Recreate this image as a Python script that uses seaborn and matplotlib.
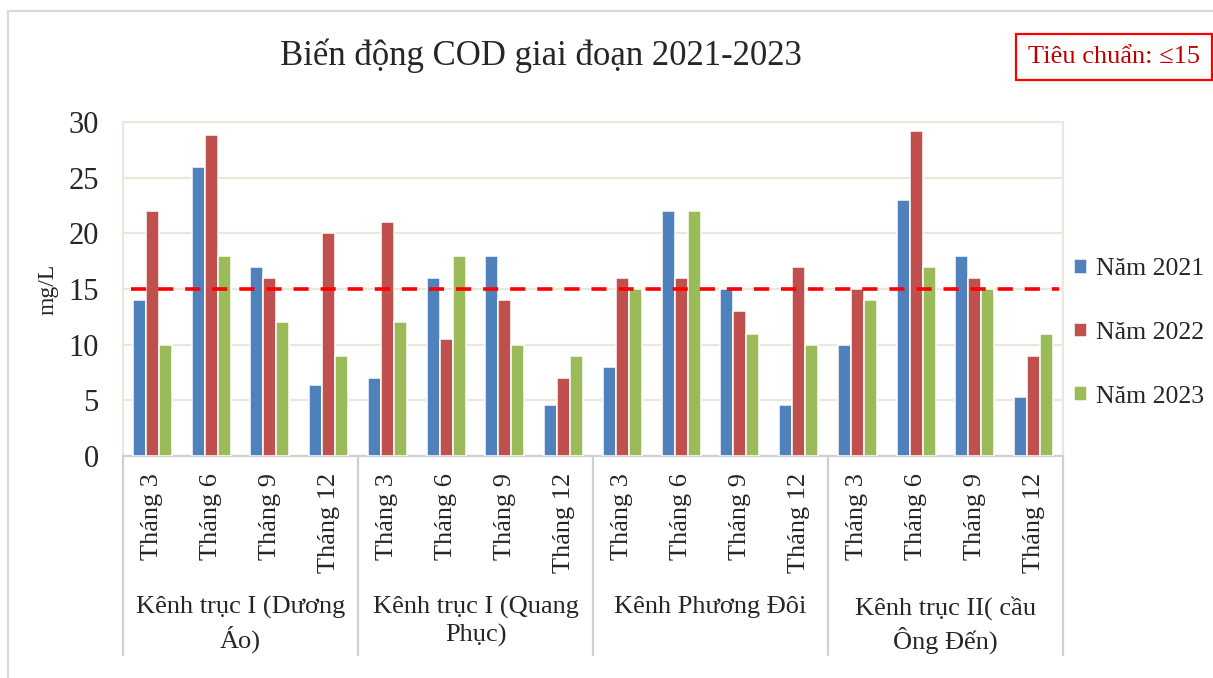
import numpy as np
import pandas as pd
import matplotlib
matplotlib.use("Agg")
import matplotlib.pyplot as plt
import matplotlib.transforms as mtransforms
from matplotlib.lines import Line2D
import seaborn as sns

# --- data -------------------------------------------------------------
sites = [
    "Kênh trục I (Dương\nÁo)",
    "Kênh trục I (Quang\nPhục)",
    "Kênh Phương Đôi",
    "Kênh trục II( cầu\nÔng Đến)",
]
months = ["Tháng 3", "Tháng 6", "Tháng 9", "Tháng 12"]
years = ["Năm 2021", "Năm 2022", "Năm 2023"]

cod_2021 = [14, 26, 17, 6.4,   7, 16, 18, 4.6,   8, 22, 15, 4.6,   10, 23, 18, 5.3]
cod_2022 = [22, 28.8, 16, 20,  21, 10.5, 14, 7,  16, 16, 13, 17,   15, 29.2, 16, 9]
cod_2023 = [10, 18, 12, 9,     12, 18, 10, 9,    15, 22, 11, 10,   14, 17, 15, 11]

standard = 15
title = "Biến động COD giai đoạn 2021-2023"
standard_label = "Tiêu chuẩn: ≤15"
y_label = "mg/L"
y_ticks = [0, 5, 10, 15, 20, 25, 30]

colors = ["#4F81BD", "#C0504D", "#9BBB59"]

# --- long-form table ----------------------------------------------------
keys = [f"{s}|{m}" for s in sites for m in months]
rows = []
for year, vals in zip(years, [cod_2021, cod_2022, cod_2023]):
    for k, v in zip(keys, vals):
        rows.append({"key": k, "year": year, "cod": v})
df = pd.DataFrame(rows)

# --- figure -----------------------------------------------------------
sns.set_style("white")
plt.rcParams["font.family"] = ["Liberation Serif", "DejaVu Serif"]

W, H = 1213, 678
fig = plt.figure(figsize=(W / 100, H / 100), dpi=100)
ax = fig.add_axes([123 / W, 1 - 456 / H, (1063 - 123) / W, (456 - 122) / H])

grid_c = "#EAE7DC"
axis_c = "#D0D0D0"

sns.barplot(
    data=df, x="key", y="cod", hue="year",
    order=keys, hue_order=years, palette=colors,
    width=0.66, edgecolor="white", linewidth=1.1,
    saturation=1, ax=ax, legend=True, zorder=3,
)
handles, labels = ax.get_legend_handles_labels()
ax.get_legend().remove()

ax.set_xlim(-0.5, len(keys) - 0.5)
ax.set_ylim(0, 30)
ax.set_yticks(y_ticks)
ax.set_yticklabels([str(t) for t in y_ticks], fontsize=22)
ax.tick_params(axis="y", length=0, pad=17.5)
ax.yaxis.grid(True, color=grid_c, linewidth=1.6, zorder=0)
ax.set_axisbelow(True)

ax.set_xticks(range(len(keys)))
ax.set_xticklabels(months * len(sites), rotation=90, fontsize=19)
ax.set_xticks(np.arange(-0.5, len(keys), 1), minor=True)
ax.tick_params(axis="x", which="major", length=5, color=axis_c, width=1.2,
               direction="out", pad=7)
ax.tick_params(axis="x", which="minor", length=5, color=axis_c, width=1.2,
               direction="in")
ax.set_xlabel("")
ax.set_ylabel(y_label, fontsize=17, labelpad=7)

for side in ["left", "top", "right"]:
    ax.spines[side].set_color(grid_c)
    ax.spines[side].set_linewidth(1.6)
ax.spines["bottom"].set_color(axis_c)
ax.spines["bottom"].set_linewidth(1.6)

# threshold line
ax.axhline(standard, xmin=0.008, xmax=0.996, color="#FF0000", linewidth=2.6,
           linestyle=(0, (4.2, 3.3)), zorder=4)

# group separators and group labels below the month labels
trans = mtransforms.blended_transform_factory(ax.transData, fig.transFigure)
y_axis = 1 - 456 / H
y_bottom = 1 - 655 / H
for b in np.arange(-0.5, len(keys) + 0.5, len(months)):
    fig.add_artist(Line2D([b, b], [y_axis, y_bottom], transform=trans,
                          color=axis_c, linewidth=1.6))
for i, s in enumerate(sites):
    cx = i * len(months) + (len(months) - 1) / 2
    fig.text(cx, 1 - 596 / H, s, transform=trans, ha="center", va="top",
             multialignment="center", fontsize=19, linespacing=1.3)

# legend
fig.legend(handles, labels, loc="center left",
           bbox_to_anchor=(1061 / W, 1 - 333 / H), frameon=False,
           fontsize=18.5, handlelength=0.5, handleheight=0.5,
           handletextpad=0.35, labelspacing=1.62, borderpad=0)

# title and standard box
fig.text(541 / W, 1 - 56 / H, title, ha="center", va="center", fontsize=25)
fig.text(1114 / W, 1 - 57 / H, standard_label, ha="center", va="center",
         fontsize=19, color="#C00000",
         bbox=dict(boxstyle="square,pad=0.45", facecolor="white",
                   edgecolor="#FF0000", linewidth=1.6))

# chart-area frame
fig.add_artist(Line2D([8 / W, 8 / W], [0, 1 - 11 / H], transform=fig.transFigure,
                      color="#D9D9D9", linewidth=1.6))
fig.add_artist(Line2D([8 / W, 1], [1 - 11 / H, 1 - 11 / H],
                      transform=fig.transFigure, color="#D9D9D9", linewidth=1.6))

fig.savefig("out.png", dpi=100, facecolor="white")
